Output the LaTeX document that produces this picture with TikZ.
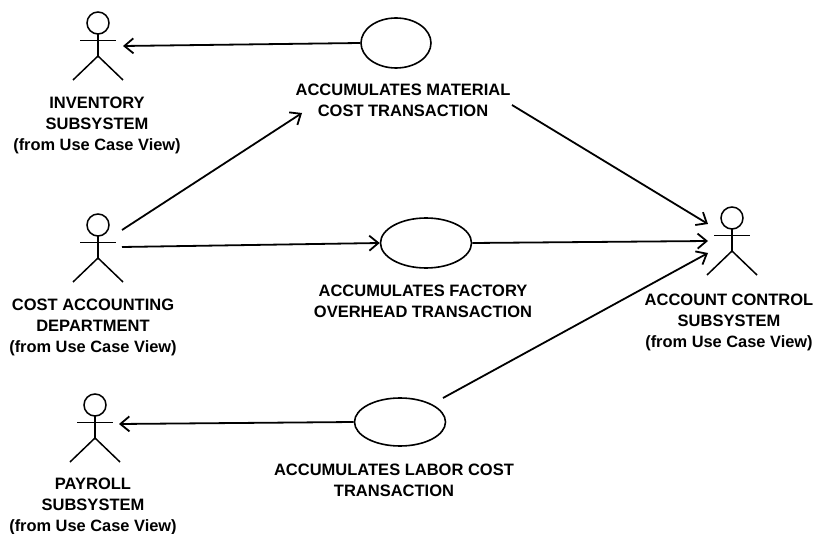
\documentclass[tikz,border=0pt]{standalone}
\usepackage{fontspec}
\setmainfont{Liberation Sans}
\usetikzlibrary{arrows.meta,shapes.geometric}
\newcommand{\fromview}{{\fontsize{16.4}{21}\selectfont (from Use Case View)}}
\begin{document}
\begin{tikzpicture}[x=1pt,y=-1pt,
        arrow/.style = {line width=1.8pt,-{Straight Barb[length=9pt,width=15pt,line width=1.8pt]}},
        usecase/.style = {draw,ellipse,line width=1.6pt,inner sep=0pt},
        head/.style = {draw,circle,line width=1.5pt,minimum size=22pt,inner sep=0pt},
        label/.style = {align=center,inner sep=0pt,font=\fontsize{16.5}{21}\selectfont\bfseries},
        actor/.pic = {
            \draw[line width=1.5pt] (0,11) -- (0,33);
            \draw[line width=1.8pt] (-18,17.5) -- (18,17.5);
            \draw[line width=1.5pt] (-25,57) -- (0,33) -- (25,57);
        }]
    \useasboundingbox (0,0) rectangle (816,534);

    \node[head] (inventory) at (98,23) {};
    \node[head] (cost) at (98,225) {};
    \node[head] (account) at (732,218) {};
    \node[head] (payroll) at (95,405) {};
    \pic at (inventory) {actor};
    \pic at (cost) {actor};
    \pic at (account) {actor};
    \pic at (payroll) {actor};

    \node[usecase,minimum width=70pt,minimum height=50pt] (material) at (396,43) {};
    \node[usecase,minimum width=91pt,minimum height=50pt] (factory) at (426,243) {};
    \node[usecase,minimum width=91pt,minimum height=48pt] (labor) at (400,422) {};

    \node[label] (inventorytext) at (97,125) {INVENTORY\\SUBSYSTEM\\\fromview};
    \node[label] (costtext) at (93,327) {COST ACCOUNTING\\DEPARTMENT\\\fromview};
    \node[label] (accounttext) at (729,322) {ACCOUNT CONTROL\\SUBSYSTEM\\\fromview};
    \node[label] (payrolltext) at (93,506) {PAYROLL\\SUBSYSTEM\\\fromview};
    \node[label] (materialtext) at (403,100) {ACCUMULATES MATERIAL\\COST TRANSACTION};
    \node[label] (factorytext) at (423,301) {ACCUMULATES FACTORY\\OVERHEAD TRANSACTION};
    \node[label] (labortext) at (394,480) {ACCUMULATES LABOR COST\\TRANSACTION};

    \coordinate (inventoryin) at (123,46);
    \coordinate (costout1) at (122,230);
    \coordinate (costout2) at (122,247);
    \coordinate (materialin) at (302,113);
    \coordinate (materialout) at (512,105);
    \coordinate (accountin1) at (708,224);
    \coordinate (accountin2) at (708,241);
    \coordinate (accountin3) at (708,253);
    \coordinate (laborout) at (443,398);
    \coordinate (payrollin) at (119,424);

    \draw[arrow] (material.west) -- (inventoryin);
    \draw[arrow] (costout1) -- (materialin);
    \draw[arrow] (costout2) -- (factory.west);
    \draw[arrow] (materialout) -- (accountin1);
    \draw[arrow] (factory.east) -- (accountin2);
    \draw[arrow] (laborout) -- (accountin3);
    \draw[arrow] (labor.west) -- (payrollin);
\end{tikzpicture}
\end{document}
